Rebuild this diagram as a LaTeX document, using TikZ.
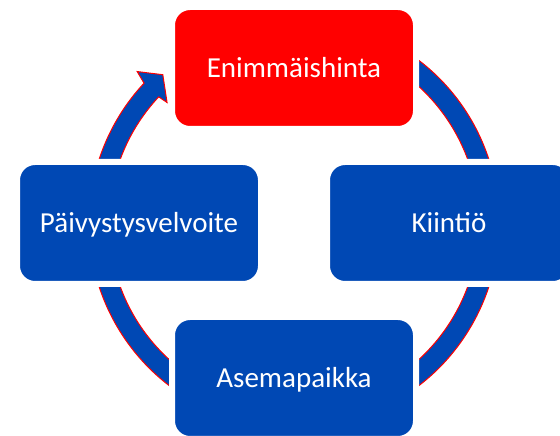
\documentclass[tikz,border=0pt]{standalone}
\usepackage{fontspec}
\setmainfont{Carlito}
\usepackage{tikz}
\usetikzlibrary{positioning}

\definecolor{cycleblue}{RGB}{0,72,180}
\definecolor{cyclered}{RGB}{255,0,0}

\tikzset{
  cyclebox/.style={rectangle, rounded corners=18pt, fill=cycleblue, draw=white,
    line width=6pt, minimum width=244pt, minimum height=122pt,
    text=white, font=\fontsize{29}{34}\selectfont, text height=19pt, text depth=0pt},
  ringarrow/.style={fill=cycleblue, draw=cyclered, line width=1pt, line join=miter}
}

\begin{document}
\begin{tikzpicture}[x=1pt, y=1pt, node distance=155pt]
  \useasboundingbox (0,0) rectangle (560,436);
  \clip (0,0) rectangle (560,436);

  \coordinate (C) at (294,213);

  % ring with arrow head
  \draw [ringarrow] ([shift={(C)}]60:205) arc[start angle=60, end angle=-223, radius=205]
    -- ([shift={(C)}]-224:218) -- ([shift={(C)}]-228.5:198)
    -- ([shift={(C)}]-223.5:175) -- ([shift={(C)}]-223:185)
    arc[start angle=-223, end angle=60, radius=185] -- cycle;

  \node [cyclebox, fill=cyclered, above of = C] (hinta) {Enimmäishinta};
  \node [cyclebox, right of = C] (kiintio) {Kiintiö};
  \node [cyclebox, below of = C] (asema) {Asemapaikka};
  \node [cyclebox, left of = C] (paivystys) {Päivystysvelvoite};
\end{tikzpicture}
\end{document}
